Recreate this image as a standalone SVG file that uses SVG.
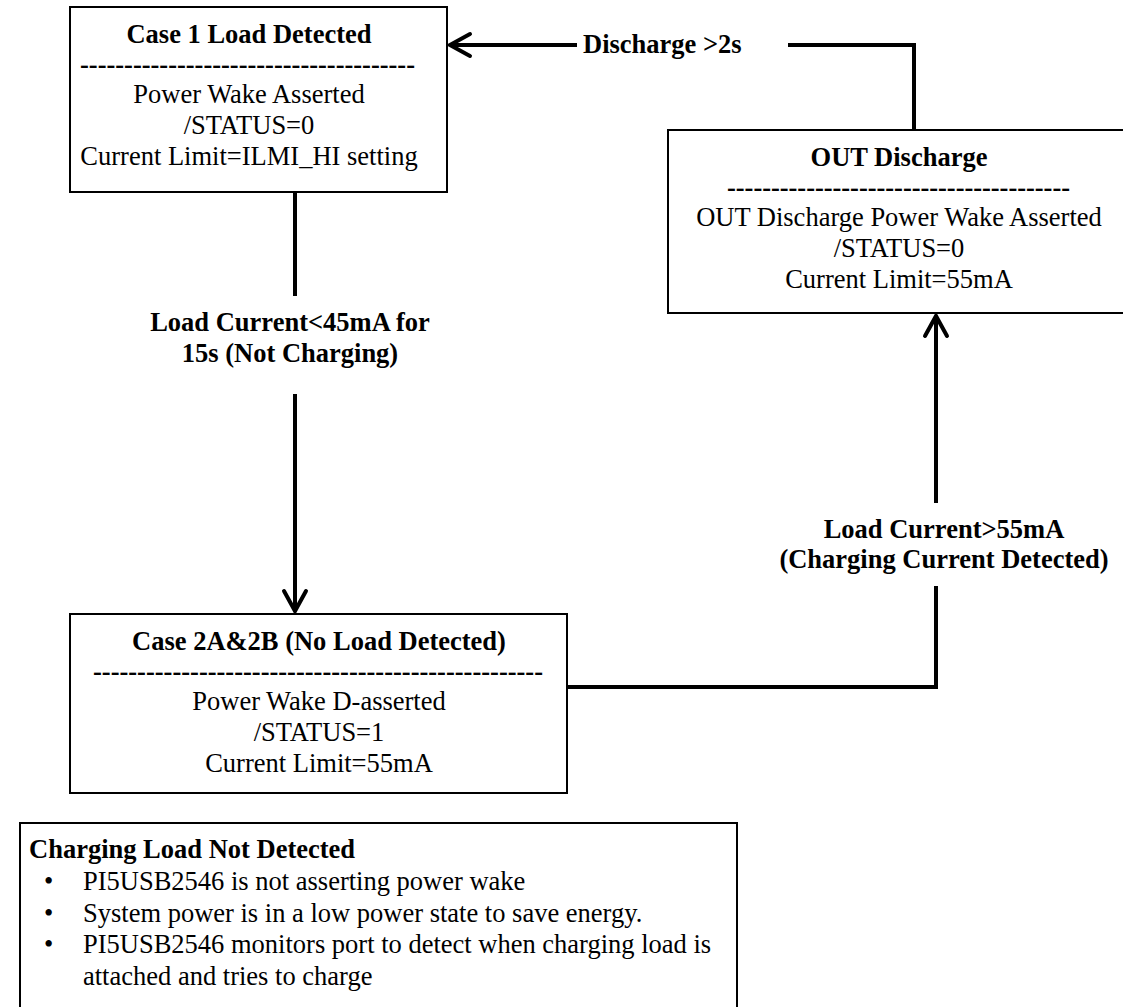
<svg xmlns="http://www.w3.org/2000/svg" width="1123" height="1007" viewBox="0 0 1123 1007">
<style>
  .box { fill: #ffffff; stroke: #000000; stroke-width: 2; }
  .t { font-family: "Liberation Serif", "Times New Roman", serif; font-size: 26.5px; fill: #000000; }
  .b { font-weight: bold; }
  .c { text-anchor: middle; }
  .conn { fill: none; stroke: #000000; stroke-width: 4; stroke-linejoin: miter; }
</style>
<defs>
  <marker id="arrow" markerUnits="userSpaceOnUse" markerWidth="30" markerHeight="30" viewBox="-24 -15 30 30" refX="0" refY="0" orient="auto">
    <path d="M -20 -11 L 0 0 L -20 11" fill="none" stroke="#000000" stroke-width="4" stroke-linecap="round" stroke-linejoin="miter"/>
  </marker>
</defs>
<rect width="1123" height="1007" fill="#ffffff"/>

<g id="connectors">
  <path class="conn" d="M 295 192 V 296"/>
  <path class="conn" d="M 295 394 V 611" marker-end="url(#arrow)"/>
  <path class="conn" d="M 567 687 H 936 V 586"/>
  <path class="conn" d="M 936 503 V 316" marker-end="url(#arrow)"/>
  <path class="conn" d="M 914 130 V 45 H 788"/>
  <path class="conn" d="M 577 45 H 450" marker-end="url(#arrow)"/>
  <text class="t b c" x="290" y="331">Load Current&lt;45mA for</text>
  <text class="t b c" x="290" y="362">15s (Not Charging)</text>
  <text class="t b" x="583" y="53">Discharge &gt;2s</text>
  <text class="t b c" x="944" y="538">Load Current&gt;55mA</text>
  <text class="t b c" x="944" y="568">(Charging Current Detected)</text>
</g>

<g id="case1">
  <rect class="box" x="70" y="7" width="377" height="185"/>
  <text class="t b c" x="249" y="43">Case 1 Load Detected</text>
  <text class="t b" x="80" y="73" textLength="335" lengthAdjust="spacing">--------------------------------------</text>
  <text class="t c" x="249" y="103">Power Wake Asserted</text>
  <text class="t c" x="249" y="134">/STATUS=0</text>
  <text class="t c" x="249" y="165">Current Limit=ILMI_HI setting</text>
</g>

<g id="out-discharge">
  <rect class="box" x="668" y="130" width="462" height="183"/>
  <text class="t b c" x="899" y="166">OUT Discharge</text>
  <text class="t b" x="727" y="196" textLength="343" lengthAdjust="spacing">---------------------------------------</text>
  <text class="t c" x="899" y="226">OUT Discharge Power Wake Asserted</text>
  <text class="t c" x="899" y="257">/STATUS=0</text>
  <text class="t c" x="899" y="288">Current Limit=55mA</text>
</g>

<g id="case2">
  <rect class="box" x="70" y="614" width="497" height="179"/>
  <text class="t b c" x="319" y="650">Case 2A&amp;2B (No Load Detected)</text>
  <text class="t b" x="93" y="680" textLength="450" lengthAdjust="spacing">---------------------------------------------------</text>
  <text class="t c" x="319" y="710">Power Wake D-asserted</text>
  <text class="t c" x="319" y="741">/STATUS=1</text>
  <text class="t c" x="319" y="772">Current Limit=55mA</text>
</g>

<g id="note">
  <rect class="box" x="20" y="823" width="717" height="200"/>
  <text class="t b" x="29" y="858">Charging Load Not Detected</text>
  <text class="t" x="44" y="890">•</text>
  <text class="t" x="83" y="890">PI5USB2546 is not asserting power wake</text>
  <text class="t" x="44" y="922">•</text>
  <text class="t" x="83" y="922">System power is in a low power state to save energy.</text>
  <text class="t" x="44" y="953">•</text>
  <text class="t" x="83" y="953">PI5USB2546 monitors port to detect when charging load is</text>
  <text class="t" x="83" y="985">attached and tries to charge</text>
</g>
</svg>
